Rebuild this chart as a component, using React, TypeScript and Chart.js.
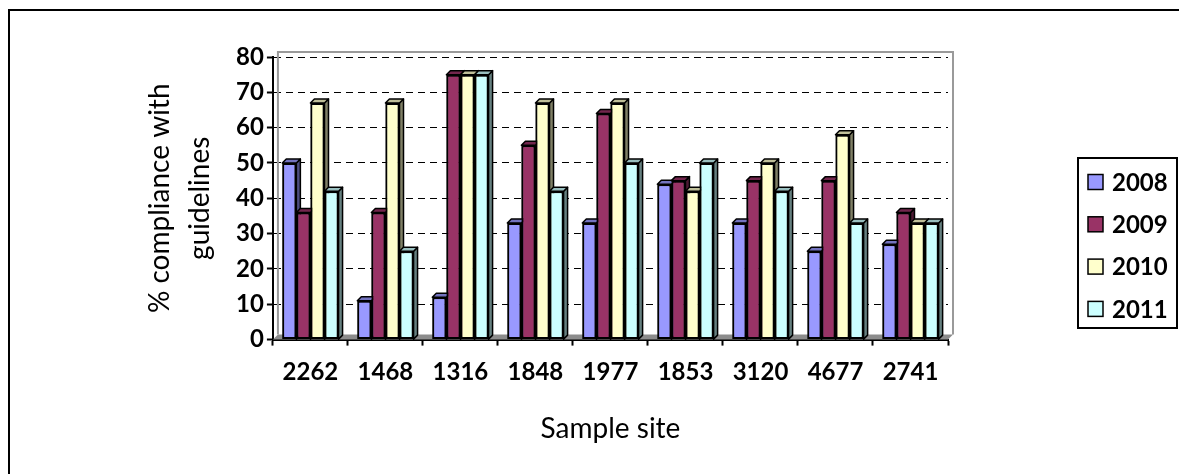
import React, { useEffect, useRef } from "react";
import { Chart, registerables } from "chart.js";

Chart.register(...registerables);

const categories = ["2262", "1468", "1316", "1848", "1977", "1853", "3120", "4677", "2741"];
const years = ["2008", "2009", "2010", "2011"];
const values2008 = [50, 11, 12, 33, 33, 44, 33, 25, 27];
const values2009 = [36, 36, 75, 55, 64, 45, 45, 45, 36];
const values2010 = [67, 67, 75, 67, 67, 42, 50, 58, 33];
const values2011 = [42, 25, 75, 42, 50, 50, 42, 33, 33];
const yAxisTitle = ["% compliance with", "guidelines"];
const xAxisTitle = "Sample site";
const yMin = 0;
const yMax = 80;
const yStep = 10;

const seriesValues = [values2008, values2009, values2010, values2011];
const seriesColors = ["#9999FF", "#993366", "#FFFFCC", "#CCFFFF"];

function shade(hex: string, f: number): string {
  const n = parseInt(hex.slice(1), 16);
  const r = Math.round(((n >> 16) & 255) * f);
  const g = Math.round(((n >> 8) & 255) * f);
  const b = Math.round((n & 255) * f);
  return `rgb(${r},${g},${b})`;
}

const depthPlugin = {
  id: "depth3d",
  beforeDatasetsDraw(chart: any) {
    const { ctx, chartArea } = chart;
    const { left, right, top, bottom } = chartArea;
    const d = 5;
    ctx.save();
    ctx.fillStyle = "#8c8c8c";
    ctx.beginPath();
    ctx.moveTo(left, bottom);
    ctx.lineTo(left + d, bottom - d);
    ctx.lineTo(right + d, bottom - d);
    ctx.lineTo(right, bottom);
    ctx.closePath();
    ctx.fill();
    ctx.strokeStyle = "#9a9a9a";
    ctx.lineWidth = 2;
    ctx.beginPath();
    ctx.moveTo(left + d, bottom - d);
    ctx.lineTo(left + d, top - d);
    ctx.lineTo(right + d, top - d);
    ctx.lineTo(right + d, bottom - d);
    ctx.stroke();
    ctx.restore();
  },
  afterDatasetsDraw(chart: any) {
    const { ctx } = chart;
    const d = 4;
    const metas = chart.data.datasets.map((_: any, i: number) => chart.getDatasetMeta(i));
    const n = chart.data.labels.length;
    ctx.save();
    for (let j = 0; j < n; j++) {
      for (let i = 0; i < metas.length; i++) {
        const bar = metas[i].data[j];
        if (!bar) continue;
        const { x, y, base, width } = bar.getProps(["x", "y", "base", "width"], true);
        const l = x - width / 2;
        const r = x + width / 2;
        const col = seriesColors[i];
        ctx.lineWidth = 1.5;
        ctx.strokeStyle = "#000";
        ctx.lineJoin = "round";
        ctx.fillStyle = shade(col, 0.5);
        ctx.beginPath();
        ctx.moveTo(r, y);
        ctx.lineTo(r + d, y - d);
        ctx.lineTo(r + d, base - d);
        ctx.lineTo(r, base);
        ctx.closePath();
        ctx.fill();
        ctx.stroke();
        ctx.fillStyle = shade(col, 0.75);
        ctx.beginPath();
        ctx.moveTo(l, y);
        ctx.lineTo(l + d, y - d);
        ctx.lineTo(r + d, y - d);
        ctx.lineTo(r, y);
        ctx.closePath();
        ctx.fill();
        ctx.stroke();
        bar.draw(ctx);
      }
    }
    ctx.restore();
  },
};

const boxLegendPlugin = {
  id: "boxLegend",
  afterDraw(chart: any, _args: any, opts: any) {
    const { ctx } = chart;
    ctx.save();
    ctx.lineWidth = 2;
    ctx.strokeStyle = "#000";
    ctx.strokeRect(opts.x, opts.y, opts.w, opts.h);
    ctx.font = opts.font;
    ctx.textBaseline = "middle";
    ctx.textAlign = "left";
    chart.data.datasets.forEach((ds: any, i: number) => {
      const cy = opts.y + opts.firstRow + i * opts.rowGap;
      ctx.fillStyle = ds.backgroundColor;
      ctx.fillRect(opts.sqX, cy - opts.sq / 2, opts.sq, opts.sq);
      ctx.lineWidth = 1.5;
      ctx.strokeRect(opts.sqX, cy - opts.sq / 2, opts.sq, opts.sq);
      ctx.fillStyle = "#000";
      ctx.fillText(ds.label, opts.textX, cy + 1);
    });
    ctx.restore();
  },
};

export default function App() {
  const ref = useRef<HTMLCanvasElement | null>(null);

  useEffect(() => {
    if (!ref.current) return;
    const yTickValues: number[] = [];
    for (let v = yMin; v <= yMax; v += yStep) yTickValues.push(v);
    const chart = new Chart(ref.current, {
      type: "bar",
      data: {
        labels: categories,
        datasets: years.map((yr, i) => ({
          label: yr,
          data: seriesValues[i],
          backgroundColor: seriesColors[i],
          borderColor: "#000",
          borderWidth: 2,
          borderSkipped: false,
          categoryPercentage: 0.75,
          barPercentage: 1.0,
        })),
      },
      options: {
        responsive: false,
        animation: false,
        events: [],
        layout: { padding: { left: 124, right: 231, top: 46, bottom: 28 } },
        plugins: {
          legend: { display: false },
          tooltip: { enabled: false },
          boxLegend: {
            x: 1068,
            y: 147,
            w: 99,
            h: 170,
            firstRow: 24,
            rowGap: 42.3,
            sq: 15,
            sqX: 1078,
            textX: 1102,
            font: "bold 24px Lato",
          },
        } as any,
        scales: {
          x: {
            grid: {
              display: true,
              drawOnChartArea: false,
              drawTicks: true,
              tickLength: 6,
              tickColor: "#000",
              tickWidth: 2,
              offset: true,
            },
            border: { display: true, color: "#000", width: 2 },
            ticks: {
              color: "#000",
              padding: 12,
              font: { family: "Lato", size: 24, weight: "bold" },
            },
            title: {
              display: true,
              text: xAxisTitle,
              color: "#000",
              font: { family: "Lato", size: 28, lineHeight: 1.2 },
              padding: { top: 14, bottom: 0 },
            },
          },
          y: {
            min: yMin,
            max: yMax,
            afterBuildTicks: (scale: any) => {
              scale.ticks = yTickValues.map((v) => ({ value: v }));
            },
            grid: {
              color: "#000",
              lineWidth: 1,
              tickLength: 6,
              tickColor: "#000",
              tickWidth: 2,
              tickBorderDash: [],
            },
            border: { display: true, color: "#000", width: 2, dash: [7, 5] },
            ticks: {
              color: "#000",
              padding: 3,
              font: { family: "Lato", size: 24, weight: "bold" },
            },
            title: {
              display: true,
              text: yAxisTitle,
              color: "#000",
              font: { family: "Lato", size: 28, lineHeight: 1.43 },
              padding: { top: 6, bottom: 13 },
            },
          },
        },
      },
      plugins: [depthPlugin, boxLegendPlugin],
    });
    return () => chart.destroy();
  }, []);

  return (
    <div
      style={{
        position: "fixed",
        left: 8,
        top: 9,
        width: 1169,
        height: 470,
        borderTop: "2px solid #000",
        borderLeft: "2px solid #000",
        background: "#fff",
      }}
    >
      <canvas ref={ref} width={1169} height={463} style={{ display: "block" }} />
    </div>
  );
}
